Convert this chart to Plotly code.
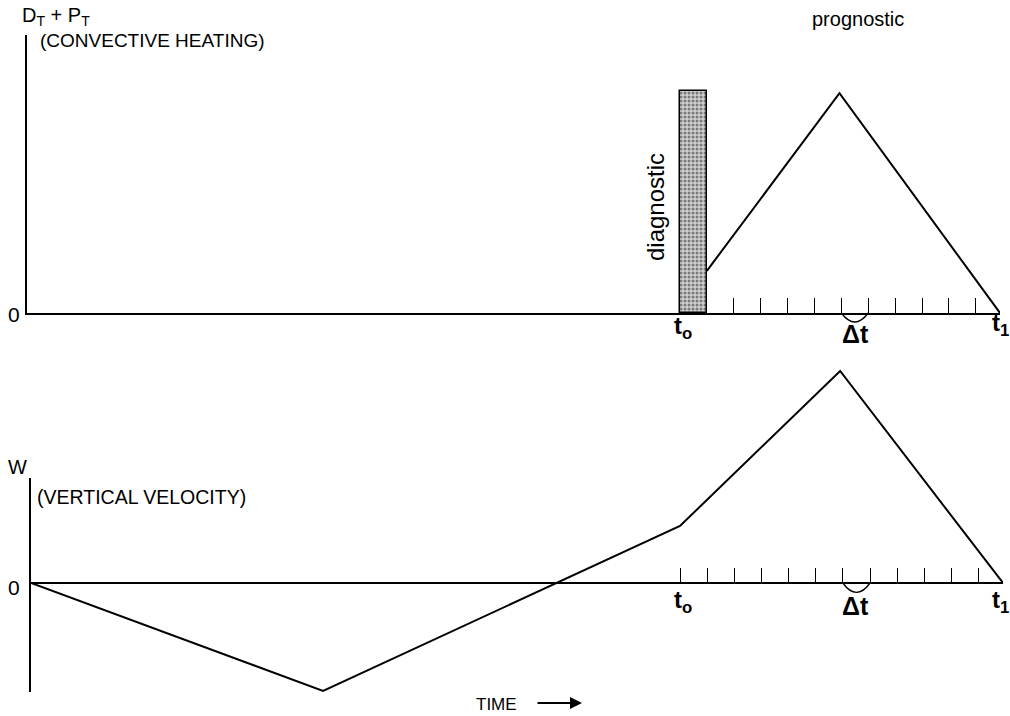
import plotly.graph_objects as go

# ---- data (time in units of the model step Δt, t0 = 0) ----
T1 = 11.9
heat_time = [1.0, 5.93, T1]          # prognostic convective heating
heat_value = [0.19, 0.99, 0.0]
diag_time = [0.5]                    # diagnostic bar centre (t0 .. t0+Δt)
diag_width = [1.0]
diag_value = [1.0]
w_time = [-23.91, -13.15, 0.0, 5.9, T1]   # vertical velocity
w_value = [0.0, -0.486, 0.257, 0.955, 0.0]
top_ticks = list(range(2, 12))
bottom_ticks = list(range(0, 12))

FONT = "Liberation Sans, Arial, sans-serif"
W, H = 1010, 716

def px(x):
    return x / W

def py(y):
    return 1 - y / H

fig = go.Figure()

# diagnostic bar
fig.add_trace(go.Bar(
    x=diag_time, y=diag_value, width=diag_width, base=0,
    marker=dict(color="#c8c8c8", line=dict(color="black", width=1.5),
                pattern=dict(shape=".", size=4, solidity=0.45, fgcolor="#222222", bgcolor="#d0d0d0")),
    xaxis="x", yaxis="y", showlegend=False, hoverinfo="skip"))

# prognostic line
fig.add_trace(go.Scatter(x=heat_time, y=heat_value, mode="lines",
                         line=dict(color="black", width=2), xaxis="x", yaxis="y",
                         showlegend=False, hoverinfo="skip"))

# vertical velocity line
fig.add_trace(go.Scatter(x=w_time, y=w_value, mode="lines",
                         line=dict(color="black", width=2), xaxis="x2", yaxis="y2",
                         showlegend=False, hoverinfo="skip"))

# dummy traces to materialise the helper axes
fig.add_trace(go.Scatter(x=[None], y=[None], xaxis="x2", yaxis="y3", showlegend=False, hoverinfo="skip"))
fig.add_trace(go.Scatter(x=[None], y=[None], xaxis="x3", yaxis="y2", showlegend=False, hoverinfo="skip"))

x_top_start = -(680 - 27) / ((1000 - 680) / T1)
x_bot_start = -(680 - 31) / ((1003 - 680) / T1)
UNIT = 222.0

fig.update_layout(
    width=W, height=H, margin=dict(l=0, r=0, t=0, b=0),
    paper_bgcolor="white", plot_bgcolor="rgba(0,0,0,0)",
    font=dict(family=FONT, color="black"),
    bargap=0,
    xaxis=dict(domain=[px(27), px(1000)], range=[x_top_start, T1], anchor="y",
               showline=True, linecolor="black", linewidth=1.5,
               ticks="inside", tickvals=top_ticks, ticklen=15, tickwidth=1.3, tickcolor="black",
               showticklabels=False, showgrid=False, zeroline=False, fixedrange=True),
    yaxis=dict(domain=[py(313), py(35)], range=[0, (313 - 35) / UNIT], anchor="x",
               showline=True, linecolor="black", linewidth=1.5, ticks="",
               showticklabels=False, showgrid=False, zeroline=False, fixedrange=True),
    xaxis2=dict(domain=[px(31), px(1003)], range=[x_bot_start, T1], anchor="y2",
                showline=False, showticklabels=False, showgrid=False, zeroline=False,
                ticks="", fixedrange=True),
    yaxis2=dict(domain=[py(692), py(355)], range=[-(692 - 583) / UNIT, (583 - 355) / UNIT],
                anchor="x2", showline=False, showticklabels=False, showgrid=False,
                zeroline=True, zerolinecolor="black", zerolinewidth=1.5, ticks="", fixedrange=True),
    yaxis3=dict(domain=[py(692), py(478)], range=[0, 1], anchor="x2",
                showline=True, linecolor="black", linewidth=1.5, showticklabels=False,
                showgrid=False, zeroline=False, ticks="", fixedrange=True),
    xaxis3=dict(domain=[px(31), px(1003)], range=[x_bot_start, T1], anchor="free",
                overlaying="x2", position=py(583), showline=False,
                ticks="inside", tickvals=bottom_ticks, ticklen=15, tickwidth=1.3, tickcolor="black",
                showticklabels=False, showgrid=False, zeroline=False, fixedrange=True),
)

# Δt arcs (between step 6 and step 7)
y0p, y1p = py(313), py(331)
fig.add_shape(type="path", path=f"M 6,{y0p} Q 6.5,{y1p} 7,{y0p}", xref="x", yref="paper",
              line=dict(color="black", width=1.3))
fig.add_shape(type="path", path="M 6,0 Q 6.5,-0.085 7,0", xref="x2", yref="y2",
              line=dict(color="black", width=1.3))

def ann(text, x, y, size, xanchor="center", bold=False, **kw):
    if bold:
        text = f"<b>{text}</b>"
    fig.add_annotation(text=text, x=px(x), y=py(y), xref="paper", yref="paper",
                       showarrow=False, xanchor=xanchor, yanchor="middle",
                       font=dict(size=size, family=FONT, color="black"), **kw)

ann("D<sub>T</sub> + P<sub>T</sub>", 20, 17, 20, xanchor="left")
ann("(CONVECTIVE HEATING)", 38, 41, 19, xanchor="left")
ann("prognostic", 858, 19, 20)
ann("diagnostic", 655, 207, 24, textangle=-90)
ann("0", 14, 314, 21)
ann("t<sub>o</sub>", 683, 327, 24, bold=True)
ann("Δt", 855, 334, 25, bold=True)
ann("t<sub>1</sub>", 1000, 324, 24, bold=True)

ann("W", 17, 467, 20)
ann("(VERTICAL VELOCITY)", 35, 497, 19.5, xanchor="left")
ann("0", 14, 587, 21)
ann("t<sub>o</sub>", 683, 601, 24, bold=True)
ann("Δt", 855, 606, 25, bold=True)
ann("t<sub>1</sub>", 1000, 601, 24, bold=True)

ann("TIME", 474, 704, 17, xanchor="left")
fig.add_annotation(x=px(582), y=py(703), xref="paper", yref="paper", ax=-46, ay=0,
                   text="", showarrow=True, arrowhead=2, arrowsize=1.2, arrowwidth=2,
                   arrowcolor="black")

fig.write_html("out.html")
